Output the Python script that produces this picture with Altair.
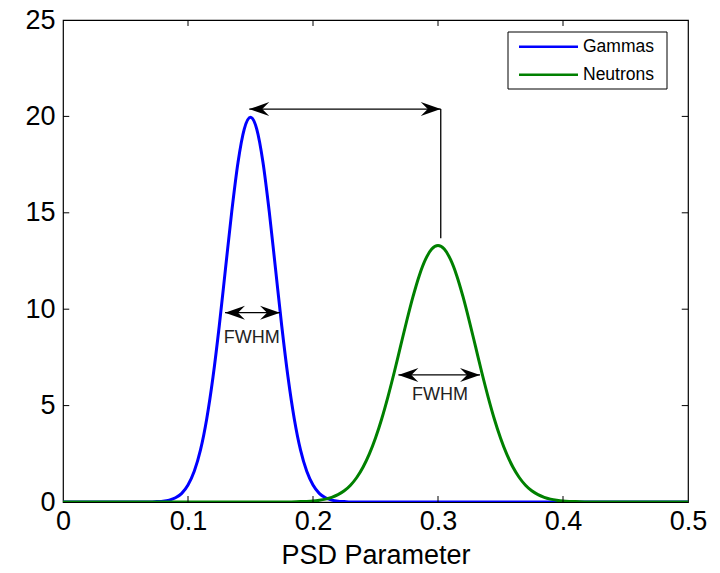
import altair as alt
import pandas as pd

# ---- curve data ----
gamma_x = [0.0, 0.05, 0.07, 0.075, 0.08, 0.085, 0.09, 0.095, 0.10, 0.105, 0.11, 0.115, 0.12,
           0.125, 0.13, 0.135, 0.14, 0.145, 0.15, 0.155, 0.16, 0.165, 0.17, 0.175, 0.18,
           0.185, 0.19, 0.195, 0.20, 0.205, 0.21, 0.215, 0.22, 0.225, 0.23, 0.25, 0.30, 0.40, 0.50]
gamma_y = [0.0, 0.0, 0.0, 0.02, 0.04, 0.10, 0.22, 0.45, 0.88, 1.59, 2.70, 4.32, 6.48,
           9.13, 12.10, 15.06, 17.61, 19.34, 19.95, 19.34, 17.61, 15.06, 12.10, 9.13, 6.48,
           4.32, 2.70, 1.59, 0.88, 0.45, 0.22, 0.10, 0.04, 0.02, 0.0, 0.0, 0.0, 0.0, 0.0]

neutron_x = [0.0, 0.10, 0.18, 0.19, 0.195, 0.20, 0.205, 0.21, 0.215, 0.22, 0.225, 0.23, 0.235,
             0.24, 0.245, 0.25, 0.255, 0.26, 0.265, 0.27, 0.275, 0.28, 0.285, 0.29, 0.295,
             0.30, 0.305, 0.31, 0.315, 0.32, 0.325, 0.33, 0.335, 0.34, 0.345, 0.35, 0.355,
             0.36, 0.365, 0.37, 0.375, 0.38, 0.385, 0.39, 0.395, 0.40, 0.405, 0.41, 0.42, 0.45, 0.50]
neutron_y = [0.0, 0.0, 0.0, 0.02, 0.03, 0.05, 0.09, 0.15, 0.24, 0.38, 0.58, 0.87, 1.27,
             1.80, 2.48, 3.32, 4.32, 5.47, 6.73, 8.07, 9.40, 10.65, 11.74, 12.58, 13.12,
             13.30, 13.12, 12.58, 11.74, 10.65, 9.40, 8.07, 6.73, 5.47, 4.32, 3.32, 2.48,
             1.80, 1.27, 0.87, 0.58, 0.38, 0.24, 0.15, 0.09, 0.05, 0.03, 0.02, 0.0, 0.0, 0.0]

series_names = ["Gammas", "Neutrons"]
series_colors = ["#0000ff", "#008000"]

x_ticks = [0, 0.1, 0.2, 0.3, 0.4, 0.5]
y_ticks = [0, 5, 10, 15, 20, 25]
x_inner_ticks = [0.1, 0.2, 0.3, 0.4]
y_inner_ticks = [5, 10, 15, 20]

# annotation arrows (data coordinates)
arrow_x1 = [0.149, 0.1296, 0.2683]
arrow_x2 = [0.3022, 0.1736, 0.3336]
arrow_y = [20.38, 9.82, 6.59]
vline_x = [0.3022]
vline_y1 = [20.38]
vline_y2 = [13.68]
label_text = ["FWHM", "FWHM"]
label_x = [0.151, 0.3016]
label_y = [8.5, 5.55]

FONT = "Liberation Sans"

curves = pd.DataFrame(
    {"x": gamma_x + neutron_x,
     "y": gamma_y + neutron_y,
     "series": [series_names[0]] * len(gamma_x) + [series_names[1]] * len(neutron_x)}
)
arrows = pd.DataFrame({"x1": arrow_x1, "x2": arrow_x2, "y": arrow_y})
vline = pd.DataFrame({"x": vline_x, "y1": vline_y1, "y2": vline_y2})
labels = pd.DataFrame({"x": label_x, "y": label_y, "t": label_text})
xt = pd.DataFrame({"v": x_inner_ticks})
yt = pd.DataFrame({"v": y_inner_ticks})

xscale = alt.Scale(domain=[0, 0.5], nice=False, zero=False)
yscale = alt.Scale(domain=[0, 25], nice=False)

xaxis = alt.Axis(values=x_ticks, title="PSD Parameter", grid=False, domain=False, ticks=False,
                 labelFontSize=27, titleFontSize=27, labelFont=FONT, titleFont=FONT,
                 labelPadding=6, titlePadding=8, titleFontWeight="normal",
                 labelColor="black", titleColor="black", labelFlush=False, format="~g")
yaxis = alt.Axis(values=y_ticks, title=None, grid=False, domain=False, ticks=False,
                 labelFontSize=27, labelFont=FONT, labelPadding=8, labelColor="black",
                 labelFlush=False)

lines = alt.Chart(curves).mark_line(strokeWidth=3, interpolate="monotone", clip=True).encode(
    x=alt.X("x:Q", scale=xscale, axis=xaxis),
    y=alt.Y("y:Q", scale=yscale, axis=yaxis),
    color=alt.Color("series:N",
                    scale=alt.Scale(domain=series_names, range=series_colors),
                    legend=None),
    detail="series:N",
)

xt_bottom = alt.Chart(xt).mark_rule(color="black", strokeWidth=1).encode(
    x=alt.X("v:Q", scale=xscale), y=alt.datum(0), y2=alt.datum(0.31))
xt_top = alt.Chart(xt).mark_rule(color="black", strokeWidth=1).encode(
    x=alt.X("v:Q", scale=xscale), y=alt.datum(24.69), y2=alt.datum(25))
yt_left = alt.Chart(yt).mark_rule(color="black", strokeWidth=1).encode(
    y=alt.Y("v:Q", scale=yscale), x=alt.datum(0), x2=alt.datum(0.005))
yt_right = alt.Chart(yt).mark_rule(color="black", strokeWidth=1).encode(
    y=alt.Y("v:Q", scale=yscale), x=alt.datum(0.495), x2=alt.datum(0.5))

arrow_lines = alt.Chart(arrows).mark_rule(color="black", strokeWidth=1.3).encode(
    x="x1:Q", x2="x2:Q", y="y:Q")
vline_rule = alt.Chart(vline).mark_rule(color="black", strokeWidth=1.3).encode(
    x="x:Q", y="y1:Q", y2="y2:Q")

left_head = "M0,0L2,-0.7L1.3,0L2,0.7Z"
right_head = "M0,0L-2,-0.7L-1.3,0L-2,0.7Z"
heads_left = alt.Chart(arrows).mark_point(filled=True, shape=left_head, size=400,
                                          color="black", opacity=1, strokeWidth=0).encode(
    x="x1:Q", y="y:Q")
heads_right = alt.Chart(arrows).mark_point(filled=True, shape=right_head, size=400,
                                           color="black", opacity=1, strokeWidth=0).encode(
    x="x2:Q", y="y:Q")

texts = alt.Chart(labels).mark_text(font=FONT, fontSize=18, color="#222222",
                                    baseline="middle", align="center").encode(
    x="x:Q", y="y:Q", text="t:N")

# ---- legend box (drawn as decoration, pixel positions inside the plot area) ----
legend_box = alt.Chart(pd.DataFrame({"k": [0]})).mark_rect(
    fill="white", stroke="black", strokeWidth=1).encode(
    x=alt.value(445), x2=alt.value(604), y=alt.value(12), y2=alt.value(69))
legend_layers = [legend_box]
for i, (name, col) in enumerate(zip(series_names, series_colors)):
    row_y = 26.7 + 28 * i
    one = pd.DataFrame({"series": [name]})
    legend_layers.append(
        alt.Chart(one).mark_rule(color=col, strokeWidth=2.5).encode(
            x=alt.value(456), x2=alt.value(515), y=alt.value(row_y)))
    legend_layers.append(
        alt.Chart(one).mark_text(font=FONT, fontSize=17.5, color="black", align="left",
                                 baseline="middle").encode(
            x=alt.value(520), y=alt.value(row_y + 0.5), text="series:N"))

chart = alt.layer(
    lines, xt_bottom, xt_top, yt_left, yt_right,
    arrow_lines, vline_rule, heads_left, heads_right, texts, *legend_layers
).properties(
    width=625, height=482,
    autosize=alt.AutoSizeParams(type="none"),
    padding={"left": 55, "top": 12, "right": 24, "bottom": 63},
    background="white",
).configure_view(stroke="black", strokeWidth=1.2)

chart.save("out.html", embed_options={"renderer": "svg", "actions": False})
